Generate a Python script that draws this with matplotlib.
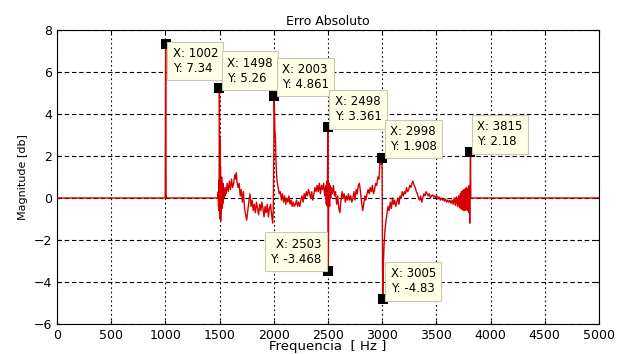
import matplotlib
matplotlib.use("Agg")
import matplotlib.pyplot as plt
import numpy as np

# Frequencia [Hz] e erro [db]
freq = [0, 995, 998, 1000, 1002, 1004, 1006, 1010, 1485,
        1488, 1490, 1492, 1494, 1496, 1498, 1500, 1502, 1504, 1506, 1508, 1510,
        1513, 1516, 1519, 1522, 1525, 1528, 1531, 1534, 1537, 1540, 1545, 1550,
        1555, 1560, 1570, 1580, 1590, 1600, 1610, 1620, 1630, 1640, 1650, 1655,
        1660, 1670, 1680, 1690, 1700, 1710, 1720, 1730, 1740, 1750, 1760, 1770,
        1780, 1790, 1800, 1810, 1820, 1830, 1840, 1850, 1860, 1870, 1880, 1890,
        1900, 1910, 1920, 1930, 1940, 1950, 1960, 1970, 1980, 1990, 1995, 2000,
        2003, 2006, 2010, 2015, 2020, 2025, 2030, 2040, 2050, 2060, 2070, 2080,
        2090, 2100, 2110, 2120, 2130, 2140, 2150, 2160, 2170, 2180, 2190, 2200,
        2210, 2220, 2230, 2240, 2250, 2260, 2270, 2280, 2290, 2300, 2310, 2320,
        2330, 2340, 2350, 2360, 2370, 2380, 2390, 2400, 2410, 2420, 2430, 2440,
        2450, 2460, 2470, 2480, 2485, 2490, 2494, 2498, 2500, 2503, 2506, 2510,
        2515, 2520, 2525, 2530, 2540, 2550, 2560, 2570, 2580, 2590, 2600, 2610,
        2620, 2630, 2640, 2650, 2660, 2670, 2680, 2690, 2700, 2710, 2720, 2730,
        2740, 2750, 2760, 2770, 2780, 2790, 2800, 2810, 2820, 2830, 2840, 2850,
        2860, 2870, 2880, 2890, 2900, 2910, 2920, 2930, 2940, 2950, 2960, 2970,
        2980, 2990, 2998, 3000, 3003, 3005, 3008, 3012, 3018, 3025, 3035, 3045,
        3055, 3065, 3075, 3085, 3095, 3105, 3115, 3125, 3135, 3145, 3155, 3165,
        3175, 3185, 3195, 3205, 3215, 3225, 3235, 3245, 3255, 3265, 3275, 3285,
        3295, 3305, 3315, 3325, 3335, 3345, 3355, 3365, 3375, 3385, 3395, 3405,
        3415, 3425, 3435, 3445, 3455, 3465, 3475, 3485, 3495, 3505, 3515, 3525,
        3535, 3545, 3555, 3565, 3575, 3585, 3595, 3605, 3615, 3625, 3635, 3645,
        3655, 3665, 3675, 3685, 3695, 3705, 3712, 3720, 3726, 3732, 3738, 3744,
        3750, 3756, 3762, 3768, 3774, 3780, 3786, 3792, 3798, 3803, 3808, 3812,
        3815, 3818, 5000]
mag = [0, 0, 0, 3.6, 7.34, 3.6, 0.2, 0, 0,
       0.3, -0.4, 0.8, -0.6, 1.7, 5.26, 4.0, -1.0, 2.8, -0.8, 1.5, -1.1,
       0.9, -0.7, 1.0, -0.5, 0.6, -0.3, 0.7, -0.2, 0.5, 0.0, 0.4, 0.1,
       0.5, 0.2, 0.7, 0.3, 0.8, 0.4, 0.9, 0.5, 0.7, 1.1, 0.9, 1.2,
       0.8, 0.5, 0.7, 0.1, 0.4, -0.2, 0.3, -0.5, -0.8, -1.05, -0.6, -0.2,
       0.2, -0.4, -0.1, -0.6, -0.3, -0.7, -0.2, -0.5, -0.8, -0.3, -0.6, -0.2,
       -0.5, -0.9, -0.4, -0.7, -0.3, -0.9, -0.5, -0.3, -0.8, -1.2, -0.5, 2.0,
       4.861, 4.3, 3.2, 2.9, 1.8, 1.2, 0.8, 0.5, 0.2, 0.3, -0.1, 0.2,
       -0.2, 0.1, -0.3, 0.0, -0.2, 0.1, -0.3, -0.1, -0.4, -0.2, -0.4, -0.3,
       -0.1, -0.4, -0.2, -0.4, -0.1, 0.1, -0.2, 0.2, 0.0, 0.3, 0.1, 0.4,
       0.2, 0.0, 0.3, -0.1, 0.2, 0.5, 0.3, 0.6, 0.3, 0.7, 0.2, 0.6,
       0.4, 0.7, 0.1, 0.6, -0.3, 0.8, -0.4, 3.361, 0.5, -3.468, -0.5, 0.7,
       -0.4, 0.6, 0.0, 0.5, 0.2, 0.6, 0.1, 0.3, -0.3, 0.1, -0.5, -0.7,
       -0.1, 0.3, 0.0, 0.2, -0.2, 0.1, -0.1, 0.2, -0.1, 0.1, -0.2, 0.0,
       0.3, -0.1, 0.4, 0.2, 0.6, 0.7, 0.3, -0.2, -0.6, -0.3, 0.1, -0.1,
       0.2, 0.4, 0.2, 0.5, 0.3, 0.6, 0.2, 0.4, 0.7, 0.6, 1.0, 0.9,
       1.7, 1.6, 1.908, 0.5, -3.5, -4.83, -4.0, -3.0, -2.2, -1.6, -1.1, -0.7,
       -0.4, -0.6, -0.2, -0.5, 0.0, -0.3, -0.1, -0.4, -0.2, 0.0, -0.3, 0.1,
       0.0, 0.3, 0.1, 0.3, 0.2, 0.5, 0.3, 0.4, 0.6, 0.5, 0.7, 0.8,
       0.6, 0.5, 0.3, 0.2, 0.0, -0.1, 0.1, -0.2, 0.0, 0.2, 0.1, 0.3,
       0.2, 0.1, 0.2, 0.0, 0.1, 0.15, 0.05, 0.1, 0.0, 0.1, -0.05, 0.05,
       -0.1, 0.0, -0.1, -0.05, -0.15, -0.05, -0.2, -0.1, -0.2, -0.1, -0.25, -0.1,
       -0.3, 0.0, -0.35, 0.05, -0.4, 0.1, -0.45, 0.2, -0.5, 0.3, -0.55, 0.35,
       -0.6, 0.4, -0.6, 0.45, -0.55, 0.5, -0.6, 0.4, -0.7, 0.6, -1.2, 1.0,
       2.18, 0.0, 0]

# Datatips do MATLAB
tip_x = [1002, 1498, 2003, 2498, 2998, 3815, 2503, 3005]
tip_y = [7.34, 5.26, 4.861, 3.361, 1.908, 2.18, -3.468, -4.83]
tip_lbl = ["7.34", "5.26", "4.861", "3.361", "1.908", "2.18", "-3.468", "-4.83"]
# deslocamento da caixa (pixels) e alinhamento
tip_off = [(7, -3, "left", "top"), (8, 3, "left", "bottom"), (8, 5, "left", "bottom"),
           (7, 4, "left", "bottom"), (8, 5, "left", "bottom"), (7, 4, "left", "bottom"),
           (-7, 5, "right", "bottom"), (8, 4, "left", "bottom")]

plt.rcParams["font.family"] = "DejaVu Sans"
fig = plt.figure(figsize=(6.2, 3.54), dpi=100)
ax = fig.add_axes([0.092, 0.085, 0.874, 0.830])

ax.plot(freq, mag, color="#d40000", lw=1.0, zorder=3)

ax.plot(tip_x, tip_y, ls="none", marker="s", markersize=7, color="black",
        markeredgewidth=0, zorder=5)

for x, y, lbl, (dx, dy, ha, va) in zip(tip_x, tip_y, tip_lbl, tip_off):
    ax.annotate(f"X: {x}\nY: {lbl}", xy=(x, y), xytext=(dx, dy), textcoords="offset pixels",
                ha=ha, va=va, fontsize=8.5, linespacing=1.2, zorder=6,
                bbox=dict(boxstyle="square,pad=0.45", fc="#ffffe6", ec="#c8c8b4", lw=0.8))

ax.set_xlim(0, 5000)
ax.set_ylim(-6, 8)
ax.set_xticks(np.arange(0, 5001, 500))
ax.set_yticks(np.arange(-6, 9, 2))
ax.tick_params(direction="in", length=3, labelsize=9, colors="black", top=True, right=True)
ax.xaxis.grid(True, color="black", ls=(0, (1.5, 2.5)), lw=0.8)
ax.yaxis.grid(True, color="black", ls=(0, (4, 2.5)), lw=0.8)
for sp in ax.spines.values():
    sp.set_linewidth(0.8)

ax.set_title("Erro Absoluto", fontsize=9, pad=4)
ax.set_xlabel("Frequencia  [ Hz ]", fontsize=9.5, labelpad=-1)
ax.set_ylabel("Magnitude [db]", fontsize=8, labelpad=4)

fig.savefig("out.png", dpi=100)
plt.close("all")
